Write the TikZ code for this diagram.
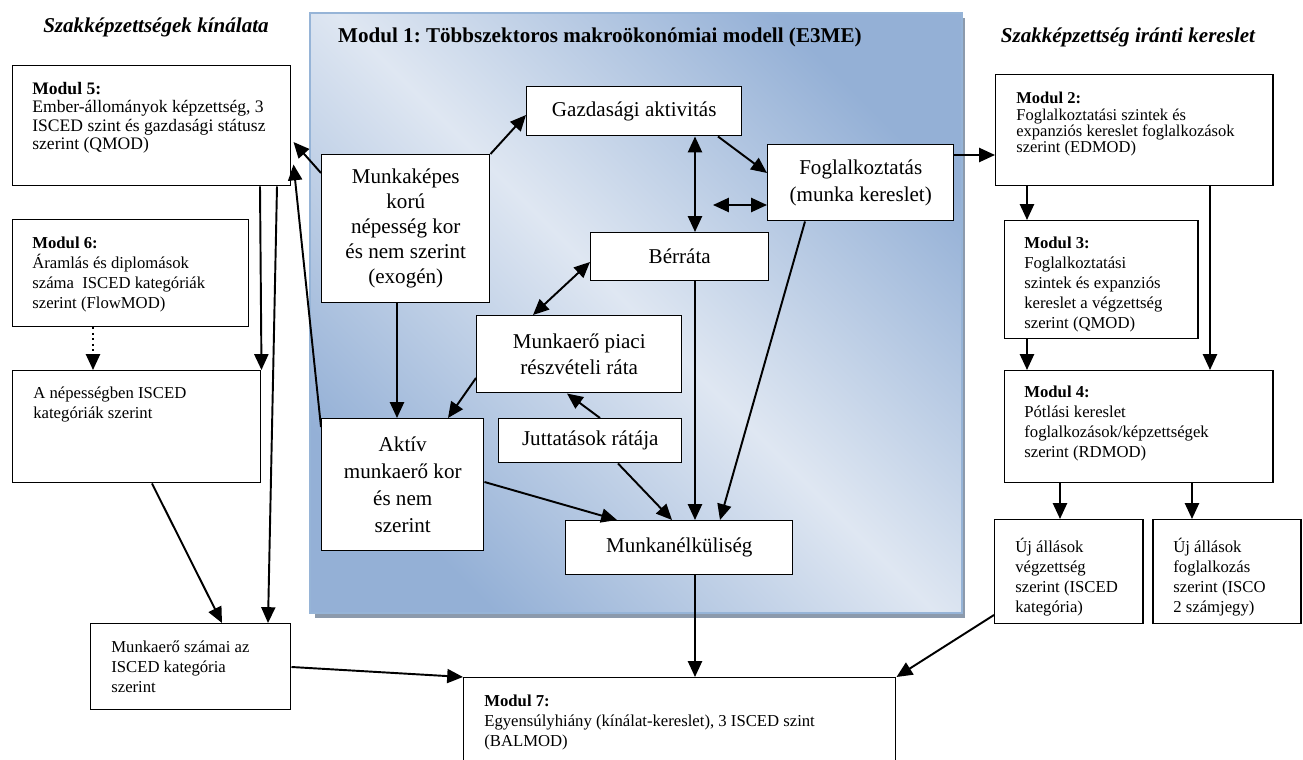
\documentclass[tikz,border=0pt]{standalone}
\usepackage{fontspec}
\setmainfont{Liberation Serif}
\usetikzlibrary{calc,arrows.meta}
\frenchspacing

\definecolor{paneldark}{RGB}{148,176,214}
\definecolor{panellight}{RGB}{223,231,242}
\definecolor{panelshadow}{RGB}{140,154,172}
\definecolor{panelline}{RGB}{150,180,215}

\tikzset{
  box/.style={draw, line width=0.85pt, fill=white, inner sep=0pt, anchor=north west},
  sz/.style 2 args={minimum width=#1*0.02cm, minimum height=#2*0.02cm},
  big/.style={align=center, font=\fontsize{12}{15.3}\selectfont},
  small/.style={anchor=north west, inner sep=0pt, align=left, font=\fontsize{9.5}{11.3}\selectfont},
  arr/.style={line width=1.1pt, -{Triangle[length=9pt,width=8pt]}},
  darr/.style={line width=1.1pt, {Triangle[length=9pt,width=8pt]}-{Triangle[length=9pt,width=8pt]}},
  head/.style={font=\bfseries\itshape\fontsize{12}{14}\selectfont},
}

\begin{document}
\begin{tikzpicture}[x=0.02cm, y=-0.02cm]
  \useasboundingbox (0,0) rectangle (1303,760);

  %%%%% MODUL 1 PANEL %%%%%
  \fill[panelshadow] (315,18) rectangle (965,618);
  \shade[top color=paneldark, bottom color=paneldark, middle color=panellight, shading angle=-45] (310,13) rectangle (962,613);
  \draw[panelline, line width=0.6pt] (310,13) rectangle (962,613);

  \node[anchor=west, font=\bfseries\fontsize{12}{14}\selectfont] (m1title) at (332,37) {Modul 1: Többszektoros makroökonómiai modell (E3ME)};
  \node[head] (supply) at (156,27) {Szakképzettségek kínálata};
  \node[head] (demand) at (1128,37) {Szakképzettség iránti kereslet};

  %%%%% SUPPLY SIDE %%%%%
  \node[box, sz={278}{120}] (m5) at (12,65) {};
  \node[small, font=\fontsize{10}{10.4}\selectfont] (m5txt) at (32,82) {\textbf{Modul 5:}\\Ember-állományok képzettség, 3\\ISCED szint és gazdasági státusz\\szerint (QMOD)};

  \node[box, sz={236}{107}] (m6) at (12,219) {};
  \node[small] (m6txt) at (32,237) {\textbf{Modul 6:}\\Áramlás és diplomások\\száma\ \ ISCED kategóriák\\szerint (FlowMOD)};

  \node[box, sz={248}{112}] (pop) at (12,370) {};
  \node[small] (poptxt) at (33,387) {A népességben ISCED\\kategóriák szerint};

  \node[box, sz={200}{86}] (lab) at (90,623) {};
  \node[small] (labtxt) at (111,641) {Munkaerő számai az\\ISCED kategória\\szerint};

  \node[box, sz={432}{100}] (m7) at (463,677) {};
  \node[small] (m7txt) at (484,695) {\textbf{Modul 7:}\\Egyensúlyhiány (kínálat-kereslet), 3 ISCED szint\\(BALMOD)};

  %%%%% MODUL 1 BOXES %%%%%
  \node[box, sz={215}{49}, big] (gdp) at (526,86) {Gazdasági aktivitás};
  \node[box, sz={168}{148}, big, font=\fontsize{12}{14.2}\selectfont] (wpop) at (321,154) {Munkaképes\\korú\\népesség kor\\és nem szerint\\(exogén)};
  \node[box, sz={186}{76}, big] (emp) at (767,144) {Foglalkoztatás\\(munka kereslet)};
  \node[box, sz={178}{48}, big] (wage) at (590,232) {Bérráta};
  \node[box, sz={205}{77}, big] (lfp) at (476,315) {Munkaerő piaci\\részvételi ráta};
  \node[box, sz={162}{132}, big] (act) at (321,418) {Aktív\\munkaerő kor\\és nem\\szerint};
  \node[box, sz={183}{44}, big] (ben) at (498,418) {Juttatások rátája};
  \node[box, sz={227}{54}, big] (unemp) at (565,520) {Munkanélküliség};

  %%%%% DEMAND SIDE %%%%%
  \node[box, sz={277}{111}] (m2) at (995,74) {};
  \node[small, font=\fontsize{9.4}{9.3}\selectfont] (m2txt) at (1016,92) {\textbf{Modul 2:}\\Foglalkoztatási szintek és\\expanziós kereslet foglalkozások\\szerint (EDMOD)};
  \node[box, sz={193}{118}] (m3) at (1004,220) {};
  \node[small] (m3txt) at (1024,237) {\textbf{Modul 3:}\\Foglalkoztatási\\szintek és expanziós\\kereslet a végzettség\\szerint (QMOD)};
  \node[box, sz={268}{112}] (m4) at (1004,370) {};
  \node[small] (m4txt) at (1024,386) {\textbf{Modul 4:}\\Pótlási kereslet\\foglalkozások/képzettségek\\szerint (RDMOD)};
  \node[box, sz={148}{104}] (jobsed) at (994,519) {};
  \node[small] (jobsedtxt) at (1015,538) {Új állások\\végzettség\\szerint (ISCED\\kategória)};
  \node[box, sz={148}{104}] (jobsoc) at (1152,519) {};
  \node[small] (jobsoctxt) at (1173,538) {Új állások\\foglalkozás\\szerint (ISCO\\2 számjegy)};

  %%%%% CONNECTORS, SUPPLY %%%%%
  \draw[arr] ($(m5.south west)+(248,0)$) -- (pop.north east);
  \draw[arr] ($(m5.south west)+(265,0)$) -- ($(lab.north west)+(178,0)$);
  \draw[arr] ($(act.north west)+(0,9)$) -- ($(m5.south east)+(2,-22)$);
  \draw[arr] ($(wpop.north west)+(0,19)$) -- ($(m5.north east)+(2,77)$);
  \draw[arr, dotted] ($(m6.south west)+(81,0)$) -- ($(pop.north west)+(81,0)$);
  \draw[arr] ($(pop.south west)+(140,0)$) -- ($(lab.north west)+(132,0)$);
  \draw[arr] ($(lab.north east)+(0,44)$) -- (m7.north west);

  %%%%% CONNECTORS, MODUL 1 %%%%%
  \draw[arr] (wpop.north east) -- ($(gdp.north west)+(0,29)$);
  \draw[arr] ($(gdp.south west)+(192,0)$) -- ($(emp.north west)+(0,29)$);
  \draw[darr] ($(gdp.south west)+(169,0)$) -- ($(wage.north west)+(105,0)$);
  \coordinate (empfree) at (713,205);
  \draw[darr] (empfree) -- (empfree -| emp.west);
  \draw[arr] ($(emp.north east)+(0,11)$) -- ($(m2.north west)+(0,81)$);
  \draw[darr] ($(wage.north west)+(0,30)$) -- ($(lfp.north west)+(57,0)$);
  \draw[arr] ($(lfp.north west)+(0,63)$) -- ($(act.north west)+(127,0)$);
  \draw[arr] ($(wpop.south west)+(76,0)$) -- ($(act.north west)+(76,0)$);
  \draw[arr] ($(ben.north west)+(102,0)$) -- ($(lfp.south west)+(91,0)$);
  \draw[arr] ($(act.north east)+(0,64)$) -- ($(unemp.north west)+(52,0)$);
  \draw[arr] ($(ben.south west)+(120,0)$) -- ($(unemp.north west)+(107,0)$);
  \draw[arr] ($(wage.south west)+(105,0)$) -- ($(unemp.north west)+(130,0)$);
  \draw[arr] ($(emp.south west)+(38,0)$) -- ($(unemp.north west)+(155,0)$);
  \draw[arr] ($(unemp.south west)+(130,0)$) -- ($(m7.north west)+(232,0)$);

  %%%%% CONNECTORS, DEMAND %%%%%
  \draw[arr] ($(m2.south west)+(32,0)$) -- ($(m3.north west)+(23,0)$);
  \draw[arr] ($(m2.south west)+(215,0)$) -- ($(m4.north west)+(206,0)$);
  \draw[arr] ($(m3.south west)+(23,0)$) -- ($(m4.north west)+(23,0)$);
  \draw[arr] ($(m4.south west)+(56,0)$) -- ($(jobsed.north west)+(66,0)$);
  \draw[arr] ($(m4.south west)+(188,0)$) -- ($(jobsoc.north west)+(40,0)$);
  \draw[arr] ($(jobsed.north west)+(0,96)$) -- (m7.north east);
\end{tikzpicture}
\end{document}
